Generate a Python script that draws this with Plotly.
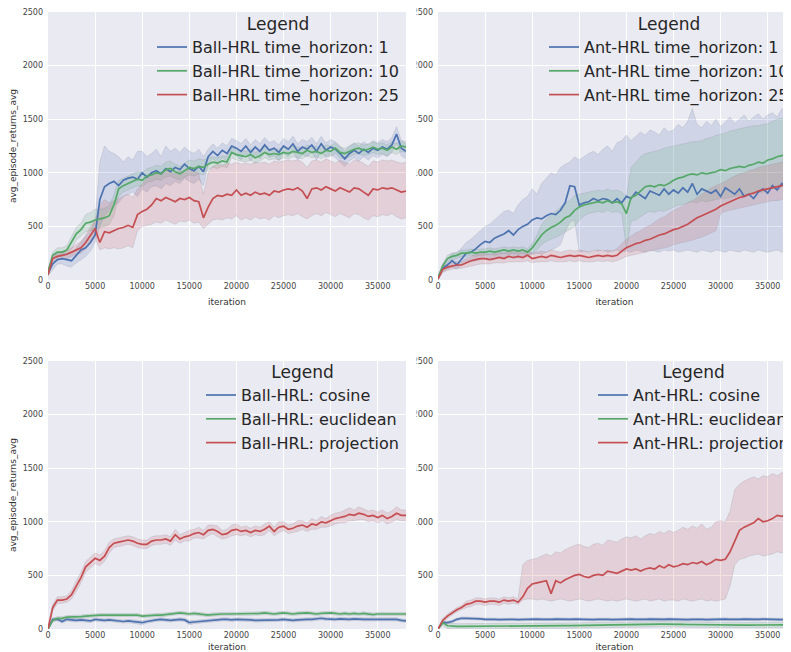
import plotly.graph_objects as go

# ---------------- data (x grid: every 500 iterations, 0 .. 38000) ----------------
iterations = list(range(0, 38001, 500))

# Panel 1: Ball-HRL, time horizons
ball_th1_mean = [60,150,190,200,190,180,230,280,300,350,
                 420,750,870,900,920,880,930,950,960,940,
                 1000,960,1000,1020,990,1040,1010,1050,1030,1080,
                 1040,1020,1060,1010,1150,1200,1160,1210,1180,1250,
                 1230,1200,1250,1190,1240,1200,1260,1210,1230,1190,
                 1250,1220,1270,1200,1240,1220,1260,1200,1270,1210,
                 1240,1220,1180,1130,1180,1210,1180,1220,1190,1230,
                 1210,1240,1220,1260,1360,1230,1200]
ball_th1_lo = [40,100,150,150,130,120,160,190,220,270,
               350,500,600,650,700,720,780,800,820,780,
               850,820,870,880,850,900,880,920,900,950,
               920,900,940,880,1080,1130,1090,1140,1110,1180,
               1160,1120,1180,1110,1170,1130,1190,1140,1160,1110,
               1180,1150,1200,1120,1170,1150,1190,1120,1200,1140,
               1170,1140,1100,1060,1110,1140,1110,1150,1120,1160,
               1140,1170,1150,1190,1280,1160,1130]
ball_th1_hi = [80,200,260,260,250,240,300,350,400,460,
               560,1100,1250,1200,1180,1150,1100,1150,1120,1200,
               1200,1150,1180,1220,1150,1250,1200,1230,1190,1240,
               1200,1180,1220,1150,1220,1270,1230,1280,1250,1320,
               1300,1270,1320,1260,1310,1270,1330,1280,1300,1260,
               1320,1290,1340,1270,1310,1290,1330,1270,1340,1280,
               1310,1290,1250,1200,1250,1280,1250,1290,1260,1300,
               1280,1310,1290,1330,1430,1300,1270]

ball_th10_mean = [80,230,260,260,280,350,430,470,530,540,
                  560,570,580,600,700,850,880,900,920,940,
                  930,970,980,1000,990,1030,1040,1010,990,1020,
                  1050,1040,1060,1050,1080,1100,1090,1110,1100,1190,
                  1170,1160,1150,1170,1140,1160,1190,1170,1180,1170,
                  1190,1180,1200,1190,1180,1210,1190,1200,1180,1210,
                  1200,1230,1190,1180,1200,1220,1230,1210,1220,1240,
                  1220,1230,1210,1240,1220,1250,1240]
ball_th10_lo = [60,200,220,220,240,290,370,410,450,460,
                470,490,500,520,600,780,820,840,860,880,
                870,910,920,940,930,960,970,950,930,960,
                980,970,990,980,1030,1050,1040,1060,1050,1140,
                1120,1110,1100,1120,1090,1110,1140,1120,1130,1120,
                1140,1130,1150,1140,1130,1160,1140,1150,1130,1160,
                1150,1180,1140,1130,1150,1170,1180,1160,1170,1190,
                1170,1180,1160,1190,1170,1200,1190]
ball_th10_hi = [100,260,300,300,320,410,490,530,610,630,
                660,660,670,690,800,930,950,970,990,1010,
                1000,1040,1050,1070,1060,1100,1110,1080,1060,1090,
                1120,1110,1130,1120,1140,1150,1140,1160,1150,1240,
                1220,1210,1200,1220,1190,1210,1240,1220,1230,1220,
                1240,1230,1250,1240,1230,1260,1240,1250,1230,1260,
                1250,1280,1240,1230,1250,1270,1280,1260,1270,1290,
                1270,1280,1260,1290,1270,1300,1290]

ball_th25_mean = [50,200,220,230,240,260,280,300,350,420,
                  480,350,450,440,460,480,490,510,490,610,
                  640,660,700,760,740,770,750,730,760,750,
                  770,740,730,580,680,760,790,780,800,790,
                  840,790,810,790,820,800,810,790,830,820,
                  840,850,840,860,830,760,850,860,840,870,
                  850,830,860,840,820,860,850,820,790,850,
                  840,860,850,860,840,820,830]
ball_th25_lo = [30,170,190,200,200,220,240,250,290,350,
                400,280,300,290,300,290,300,320,300,460,
                500,510,520,540,530,560,540,520,550,540,
                560,530,540,480,520,560,570,560,580,570,
                600,560,580,560,590,570,580,560,600,580,
                600,610,600,620,590,570,600,620,600,630,
                610,590,620,600,580,620,610,580,560,600,
                590,610,600,620,590,570,580]
ball_th25_hi = [80,240,260,260,280,300,330,360,420,500,
                560,700,750,720,740,760,780,800,770,850,
                900,950,980,1020,1000,1030,1010,990,1020,1000,
                1040,1010,1000,800,1000,1060,1080,1070,1090,1080,
                1100,1080,1090,1080,1100,1090,1100,1080,1110,1100,
                1110,1120,1110,1120,1100,1050,1110,1120,1100,1130,
                1110,1090,1120,1100,1080,1120,1110,1090,1060,1110,
                1100,1120,1110,1120,1100,1090,1100]

# Panel 2: Ant-HRL, time horizons
ant_th1_mean = [20,110,140,180,140,200,250,260,290,330,
                360,350,390,410,430,460,420,470,500,520,
                560,580,570,600,620,610,650,720,880,870,
                700,720,730,760,740,760,750,720,760,720,
                780,760,820,790,760,830,810,790,850,800,
                840,810,860,820,900,800,850,830,810,840,
                780,860,830,800,850,780,800,760,820,850,
                810,880,840,900,860,920,900]
ant_th1_lo = [0,80,100,120,100,140,160,170,180,190,
              200,190,200,210,210,220,200,210,220,230,
              240,250,240,260,280,300,330,450,540,560,
              260,270,260,280,270,280,260,270,280,260,
              270,260,280,270,260,280,270,260,280,270,
              280,260,270,280,270,260,280,270,260,280,
              270,260,280,270,260,280,270,260,280,270,
              260,270,280,260,270,280,270]
ant_th1_hi = [40,150,200,250,250,300,350,380,420,460,
              500,520,560,600,640,650,620,700,750,780,
              850,800,900,950,1000,980,1050,1080,1100,1150,
              1120,1150,1180,1200,1170,1220,1250,1200,1280,1300,
              1350,1300,1340,1380,1350,1400,1380,1350,1420,1380,
              1400,1450,1420,1480,1600,1450,1420,1480,1440,1500,
              1430,1480,1520,1460,1500,1540,1480,1520,1550,1500,
              1540,1560,1520,1600,1580,1620,1600]

ant_th10_mean = [20,130,200,220,230,250,250,260,250,260,
                 260,270,260,270,280,270,280,270,280,260,
                 300,360,420,460,490,510,540,580,600,650,
                 680,700,710,720,730,720,740,720,730,710,
                 620,770,790,830,870,880,870,890,880,900,
                 930,950,960,980,990,980,1000,990,1000,1010,
                 1030,1020,1040,1050,1060,1050,1070,1080,1100,1090,
                 1120,1130,1150,1160,1180,1190,1200]
ant_th10_lo = [0,110,170,190,200,220,220,230,220,230,
               230,240,230,240,250,240,250,240,250,230,
               250,280,330,360,380,400,420,450,470,500,
               560,600,620,630,640,630,650,630,640,620,
               300,550,560,590,620,640,630,650,640,660,
               680,700,700,720,730,720,740,730,740,750,
               760,760,770,780,790,780,800,810,820,820,
               840,850,860,870,890,900,910]
ant_th10_hi = [40,150,230,250,260,280,280,290,280,290,
               290,300,290,300,310,300,310,300,310,290,
               340,420,520,570,610,640,680,720,740,790,
               800,810,820,830,840,830,850,830,840,820,
               780,1050,1100,1150,1180,1190,1200,1210,1230,1240,
               1250,1260,1270,1280,1290,1290,1300,1320,1330,1350,
               1360,1370,1390,1400,1410,1420,1430,1440,1440,1450,
               1460,1480,1500,1510,1520,1530,1540]

ant_th25_mean = [10,100,120,130,140,140,160,180,190,200,
                 200,190,200,210,200,220,210,220,210,230,
                 200,210,220,210,230,220,210,220,230,220,
                 230,220,210,220,230,220,230,220,230,270,
                 300,320,340,350,370,380,400,420,430,450,
                 470,480,500,520,550,580,600,620,640,660,
                 690,710,730,750,770,780,800,810,830,840,
                 850,860,870,880,890,900,910]
ant_th25_lo = [0,70,90,100,110,110,120,130,140,150,
               150,150,160,160,160,170,170,170,170,180,
               160,170,170,170,180,170,170,170,180,170,
               180,170,170,170,180,170,180,170,180,200,
               220,230,240,250,260,270,280,290,300,310,
               330,340,350,360,370,390,400,420,440,460,
               620,640,650,660,670,680,690,700,710,720,
               730,740,740,750,760,770,780]
ant_th25_hi = [30,130,150,160,170,170,200,220,240,250,
               250,240,250,260,250,270,260,270,260,280,
               250,260,270,260,280,270,260,270,280,270,
               280,270,260,270,280,270,280,270,290,340,
               380,410,440,460,490,510,540,570,590,620,
               650,670,690,720,740,770,800,830,860,880,
               900,920,950,970,990,1000,1020,1030,1050,1060,
               1070,1080,1090,1100,1110,1120,1130]

# Panel 3: Ball-HRL, distance functions
ball_cos_mean = [0,90,90,70,90,85,80,85,80,75,
                 90,85,80,85,80,75,70,75,70,65,
                 60,70,80,85,90,85,80,85,90,85,
                 60,65,70,75,80,85,90,90,90,85,
                 90,90,90,85,80,80,80,85,80,85,
                 90,85,80,85,90,90,90,95,100,95,
                 90,90,95,90,90,95,90,90,90,90,
                 90,90,85,85,90,80,75]
ball_cos_spread = [0,15,15,15,15,15,15,15,15,15,
                   15,15,15,15,15,15,15,15,15,15,
                   20,15,15,15,15,15,15,15,15,15,
                   20,15,15,15,15,15,15,15,15,15,
                   15,15,15,15,15,15,15,15,15,15,
                   15,15,15,15,15,15,15,15,15,15,
                   15,15,15,15,15,15,15,15,15,15,
                   15,15,15,15,15,15,15]
ball_euc_mean = [0,80,100,100,110,110,110,115,120,125,
                 130,130,130,130,135,130,130,130,130,130,
                 120,125,130,130,130,135,140,140,150,145,
                 140,145,140,140,130,135,140,140,140,140,
                 140,140,140,145,140,145,150,145,140,145,
                 150,145,140,145,150,150,145,140,145,150,
                 150,145,140,145,140,145,140,145,140,135,
                 140,140,145,140,140,145,140]
ball_euc_spread = [0,15,15,15,15,15,15,15,15,15,
                   15,15,15,15,15,15,15,15,15,15,
                   15,15,15,15,15,15,15,15,15,15,
                   15,15,15,15,15,15,15,15,15,15,
                   15,15,15,15,15,15,15,15,15,15,
                   15,15,15,15,15,15,15,15,15,15,
                   15,15,15,15,15,15,15,15,15,15,
                   15,15,15,15,15,15,15]
ball_proj_mean = [0,200,270,270,280,320,400,480,580,620,
                  660,640,680,760,800,810,820,830,820,800,
                  790,790,820,830,830,840,820,880,840,860,
                  870,890,900,880,920,930,910,880,890,920,
                  930,910,920,900,920,910,930,960,910,950,
                  960,930,940,960,970,950,980,970,1000,990,
                  1010,1030,1040,1050,1070,1060,1080,1070,1050,1060,
                  1040,1060,1030,1050,1080,1060,1060]
ball_proj_spread = [10,30,30,30,30,40,50,50,50,50,
                    50,50,50,50,40,40,40,40,40,40,
                    40,40,40,40,40,40,40,50,40,40,
                    50,40,50,40,50,40,50,40,40,50,
                    50,40,40,40,40,40,50,40,40,50,
                    40,40,40,50,40,40,50,40,50,40,
                    50,50,50,60,60,50,60,50,50,50,
                    50,50,50,50,60,50,50]

# Panel 4: Ant-HRL, distance functions
ant_cos_mean = [0,60,60,70,90,100,100,100,100,95,
                90,92,90,88,90,92,90,88,90,92,
                90,92,90,88,90,92,90,88,90,92,
                90,92,90,88,90,92,90,88,90,92,
                90,92,90,88,90,92,90,88,90,92,
                90,92,90,88,90,92,90,88,90,92,
                90,92,90,88,90,92,90,88,90,92,
                90,92,90,88,90,92,90]
ant_cos_spread = [0,12,12,12,12,12,12,12,12,12,
                  12,12,12,12,12,12,12,12,12,12,
                  12,12,12,12,12,12,12,12,12,12,
                  12,12,12,12,12,12,12,12,12,12,
                  12,12,12,12,12,12,12,12,12,12,
                  12,12,12,12,12,12,12,12,12,12,
                  12,12,12,12,12,12,12,12,12,12,
                  12,12,12,12,12,12,12]
ant_euc_mean = [0,60,30,25,25,25,25,25,25,25,
                28,27,26,25,24,26,25,24,25,27,
                28,29,30,30,31,30,30,31,32,33,
                34,33,34,35,35,36,37,38,38,38,
                38,39,40,41,42,43,44,45,45,46,
                45,44,43,42,41,40,40,39,38,37,
                36,35,35,35,36,36,37,37,38,38,
                38,38,38,37,38,38,38]
ant_euc_spread = [0,25,25,25,25,25,25,25,25,25,
                  25,25,25,25,25,25,25,25,25,25,
                  25,25,25,25,25,25,25,25,25,25,
                  25,25,25,25,25,25,25,25,25,25,
                  25,25,25,25,25,25,25,25,25,25,
                  25,25,25,25,25,25,25,25,25,25,
                  25,25,25,25,25,25,25,25,25,25,
                  25,25,25,25,25,25,25]
ant_proj_mean = [0,80,120,150,180,200,230,240,260,260,
                 250,260,260,250,270,260,270,250,300,380,
                 420,430,440,450,330,450,430,460,480,500,
                 510,490,480,500,510,500,540,530,520,540,
                 560,550,560,540,560,570,560,590,570,600,
                 580,590,610,600,620,610,630,600,620,650,
                 640,650,720,820,920,950,970,990,1030,1000,
                 1010,1030,1060,1050,1070,1060,1080]
ant_proj_lo = [0,60,100,130,160,180,200,210,230,230,
               220,230,230,220,240,230,240,230,270,280,
               280,270,280,270,260,270,280,270,260,270,
               280,270,260,270,280,270,260,270,260,270,
               280,270,260,270,280,260,270,280,260,270,
               270,260,280,270,260,270,280,260,270,260,
               270,280,400,600,650,660,680,690,700,680,
               690,700,720,710,720,730,740]
ant_proj_hi = [0,100,140,170,200,220,260,270,290,290,
               280,290,290,280,300,290,300,280,600,640,
               650,660,680,700,680,720,710,740,760,780,
               790,770,760,790,800,780,830,820,810,840,
               860,850,870,840,870,890,880,910,890,920,
               900,920,950,930,960,940,980,930,950,1000,
               1010,1000,1100,1300,1350,1380,1400,1420,1400,1430,
               1420,1450,1430,1460,1450,1470,1460]

y_ticks = [0, 500, 1000, 1500, 2000, 2500]
x_ticks = [0, 5000, 10000, 15000, 20000, 25000, 30000, 35000]

# ---------------- styling ----------------
# The page body has an 8px margin, so the figure is sized to fill the rest of the
# 791x652 window, and screen-pixel positions are converted by subtracting OFF.
OFF = 8
W, H = 791 - OFF, 652 - OFF
FONT = "DejaVu Sans"
BLUE, GREEN, RED = "#4C72B0", "#55A868", "#C44E52"
BAND = {BLUE: "rgba(76,114,176,0.17)", GREEN: "rgba(85,168,104,0.17)", RED: "rgba(196,78,82,0.17)"}
EDGE = "rgba(150,150,165,0.45)"


def px_x(p):
    return (p - OFF) / W


def px_y(p):
    return 1 - (p - OFF) / H


def sym(mean, spread, sign):
    return [m + sign * s for m, s in zip(mean, spread)]


panels = [
    ("x", "y", "legend", [
        ("Ball-HRL time_horizon: 1", ball_th1_mean, ball_th1_lo, ball_th1_hi, BLUE),
        ("Ball-HRL time_horizon: 10", ball_th10_mean, ball_th10_lo, ball_th10_hi, GREEN),
        ("Ball-HRL time_horizon: 25", ball_th25_mean, ball_th25_lo, ball_th25_hi, RED)]),
    ("x2", "y2", "legend2", [
        ("Ant-HRL time_horizon: 1", ant_th1_mean, ant_th1_lo, ant_th1_hi, BLUE),
        ("Ant-HRL time_horizon: 10", ant_th10_mean, ant_th10_lo, ant_th10_hi, GREEN),
        ("Ant-HRL time_horizon: 25", ant_th25_mean, ant_th25_lo, ant_th25_hi, RED)]),
    ("x3", "y3", "legend3", [
        ("Ball-HRL: cosine", ball_cos_mean, sym(ball_cos_mean, ball_cos_spread, -1), sym(ball_cos_mean, ball_cos_spread, 1), BLUE),
        ("Ball-HRL: euclidean", ball_euc_mean, sym(ball_euc_mean, ball_euc_spread, -1), sym(ball_euc_mean, ball_euc_spread, 1), GREEN),
        ("Ball-HRL: projection", ball_proj_mean, sym(ball_proj_mean, ball_proj_spread, -1), sym(ball_proj_mean, ball_proj_spread, 1), RED)]),
    ("x4", "y4", "legend4", [
        ("Ant-HRL: cosine", ant_cos_mean, sym(ant_cos_mean, ant_cos_spread, -1), sym(ant_cos_mean, ant_cos_spread, 1), BLUE),
        ("Ant-HRL: euclidean", ant_euc_mean, sym(ant_euc_mean, ant_euc_spread, -1), sym(ant_euc_mean, ant_euc_spread, 1), GREEN),
        ("Ant-HRL: projection", ant_proj_mean, ant_proj_lo, ant_proj_hi, RED)]),
]

fig = go.Figure()
for xa, ya, leg, series in panels:
    for name, mean, lo, hi, col in series:
        assert len(mean) == len(lo) == len(hi) == len(iterations), name
        fig.add_trace(go.Scatter(x=iterations, y=hi, xaxis=xa, yaxis=ya, mode="lines",
                                 line=dict(color=EDGE, width=0.6), showlegend=False, hoverinfo="skip"))
        fig.add_trace(go.Scatter(x=iterations, y=lo, xaxis=xa, yaxis=ya, mode="lines",
                                 line=dict(color=EDGE, width=0.6), fill="tonexty", fillcolor=BAND[col],
                                 showlegend=False, hoverinfo="skip"))
    for name, mean, lo, hi, col in series:
        fig.add_trace(go.Scatter(x=iterations, y=mean, xaxis=xa, yaxis=ya, mode="lines", name=name,
                                 line=dict(color=col, width=1.7), legend=leg))

tick_font = dict(family=FONT, size=8, color="#444444")
title_font = dict(family=FONT, size=9, color="#333333")

# plot-area boxes in screen pixels: (left, right, top, bottom)
boxes = {
    "1": (48, 406, 12, 280),
    "2": (438, 791, 12, 280),
    "3": (48, 406, 361, 629),
    "4": (438, 791, 361, 629),
}
x_ranges = {"1": [0, 38000], "2": [0, 37470], "3": [0, 38000], "4": [0, 37470]}

layout_axes = {}
for k, (l, r, t, b) in boxes.items():
    sx = "" if k == "1" else k
    layout_axes["xaxis" + sx] = dict(
        domain=[px_x(l), min(1.0, px_x(r))], anchor="y" + sx, range=x_ranges[k], tickvals=x_ticks,
        tickformat="d", ticklabeloverflow="allow",
        showgrid=True, gridcolor="white", gridwidth=1, zeroline=False, showline=False, ticks="",
        tickfont=tick_font, title=dict(text="iteration", font=title_font, standoff=8),
        automargin=False, fixedrange=True)
    layout_axes["yaxis" + sx] = dict(
        domain=[px_y(b), px_y(t)], anchor="x" + sx, range=[0, 2500], tickvals=y_ticks,
        ticklabeloverflow="allow",
        showgrid=True, gridcolor="white", gridwidth=1, zeroline=False, showline=False, ticks="",
        tickfont=tick_font, ticklabelstandoff=4,
        title=dict(text="avg_episode_returns_avg" if k in ("1", "3") else "", font=title_font, standoff=4),
        automargin=False, fixedrange=True)


def legend_at(right_px, top_px):
    return dict(x=px_x(right_px), xanchor="right", y=px_y(top_px), yanchor="top",
                bgcolor="rgba(0,0,0,0)", borderwidth=0, itemwidth=30, tracegroupgap=0,
                traceorder="normal",
                font=dict(family=FONT, size=16, color="#262626"),
                title=dict(text="Legend", side="top center", font=dict(family=FONT, size=17, color="#262626")))


fig.update_layout(
    width=W, height=H,
    margin=dict(l=0, r=0, t=0, b=0, autoexpand=False),
    paper_bgcolor="white", plot_bgcolor="#EAEAF2",
    font=dict(family=FONT, color="#333333"),
    legend=legend_at(404, 8),
    legend2=legend_at(794, 8),
    legend3=legend_at(404, 356),
    legend4=legend_at(794, 356),
    shapes=[dict(type="rect", xref="paper", yref="paper", x0=px_x(407), x1=px_x(416.5), y0=0, y1=1,
                 fillcolor="white", line=dict(width=0), layer="above")],
    **layout_axes,
)

fig.write_html("out.html")
